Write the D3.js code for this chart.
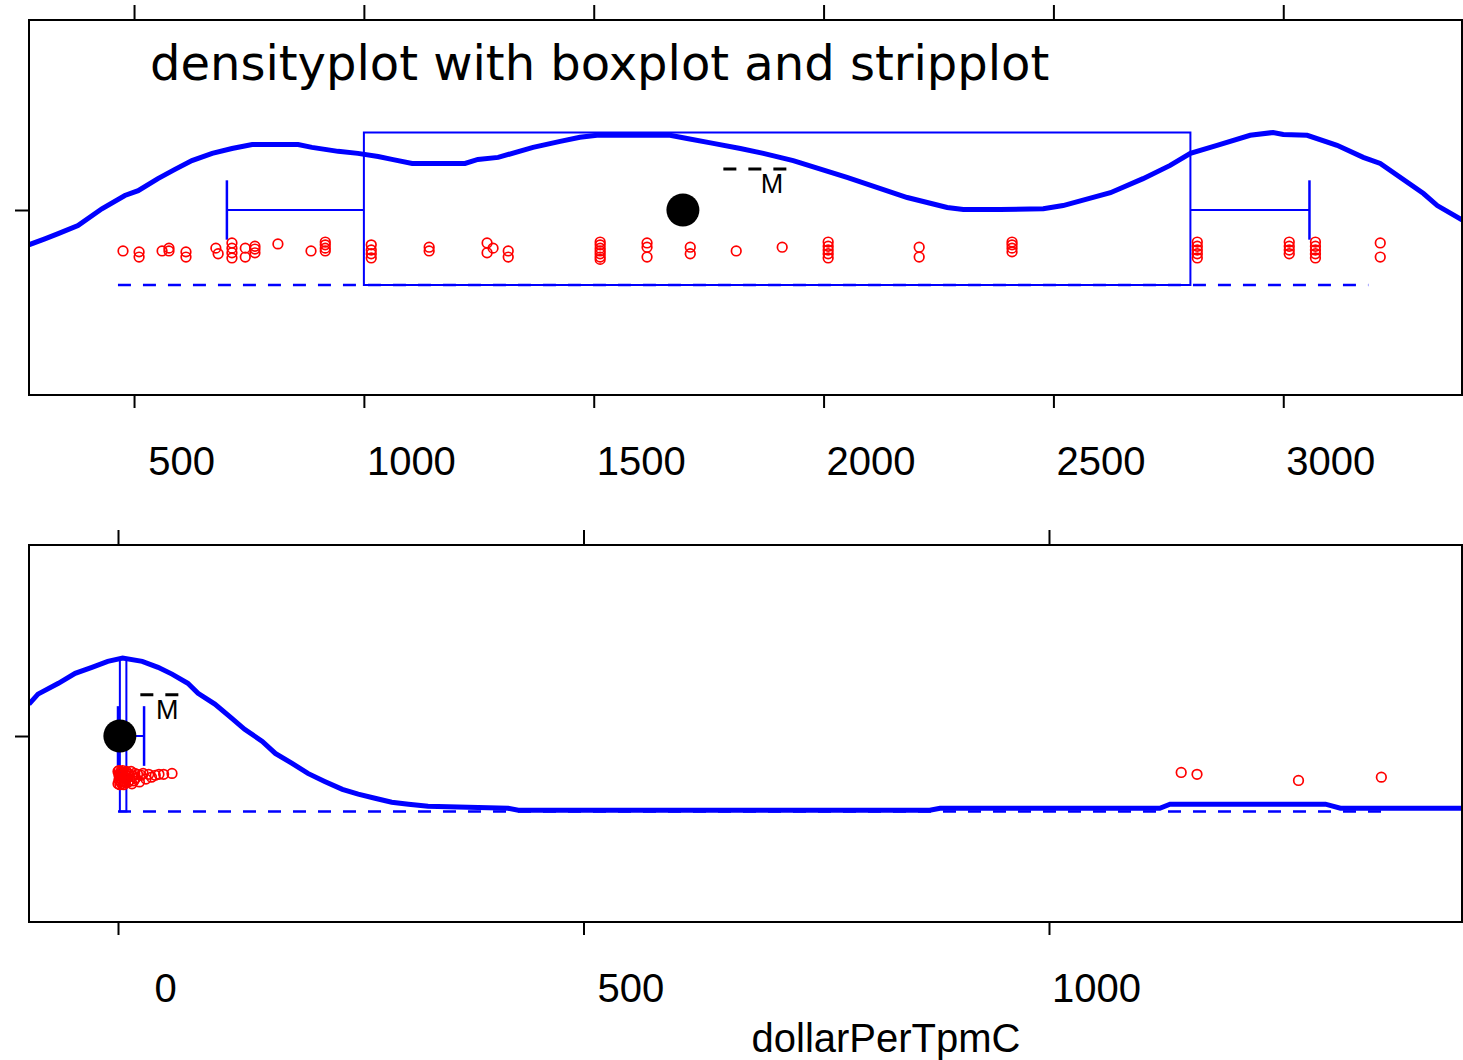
<!DOCTYPE html>
<html>
<head>
<script src="https://d3js.org/d3.v7.min.js" charset="utf-8"></script>
<style>
    body{
        margin:0;
        background:white;
        font-family:"Liberation Sans", Arial, sans-serif;
    }
</style>
</head>
<body>
<div id="chart"></div>
<script>

// ---- top panel ----
var topDomain = [271.5, 3391]
var topTicks = [500, 1000, 1500, 2000, 2500, 3000]
var topDensX = [271,306,335,378,430,480,509,552,589,626,670,713,757,857,887,944,987,1031,1061,1105,1220,1248,1292,1368,1427,1470,1507,1666,1703,1760,1819,1869,1934,2051,2182,2269,2304,2384,2478,2521,2624,2695,2754,2798,2856,2928,2978,3000,3052,3117,3174,3211,3305,3335,3392]
var topDensY = [1.00,1.15,1.28,1.48,1.90,2.23,2.35,2.65,2.88,3.10,3.28,3.40,3.50,3.50,3.43,3.33,3.28,3.20,3.13,3.03,3.03,3.13,3.18,3.43,3.58,3.68,3.73,3.73,3.65,3.53,3.40,3.28,3.10,2.68,2.18,1.93,1.88,1.88,1.90,1.98,2.30,2.65,2.98,3.28,3.48,3.73,3.80,3.75,3.73,3.48,3.18,3.03,2.28,1.98,1.60]
var topStrip = [476,511,511,561,576,576,613,613,678,683,713,713,713,713,742,742,763,763,763,813,885,916,916,916,916,1016,1016,1016,1016,1142,1142,1268,1268,1281,1314,1314,1514,1514,1514,1514,1514,1514,1514,1616,1616,1616,1710,1710,1810,1910,2010,2010,2010,2010,2010,2208,2208,2410,2410,2410,2410,2813,2813,2813,2813,2813,3013,3013,3013,3013,3070,3070,3070,3070,3070,3211,3211]
var topJitter = [-0.1,-0.2,-0.75,-0.1,0.2,-0.1,-0.2,-0.75,0.2,-0.4,0.75,0.2,-0.3,-0.85,0.2,-0.75,0.4,0.1,-0.3,0.65,-0.1,0.85,0.55,0.2,-0.1,0.55,0,-0.4,-0.85,0.3,-0.1,0.75,-0.3,0.2,-0.1,-0.75,0.85,0.55,0.2,-0.1,-0.4,-0.75,-1,0.75,0.3,-0.75,0.3,-0.4,-0.1,0.3,0.85,0.4,0,-0.4,-0.85,0.3,-0.75,0.85,0.55,0.2,-0.2,0.85,0.4,0,-0.4,-0.85,0.85,0.4,0,-0.4,0.85,0.4,0,-0.4,-0.85,0.75,-0.75]
var topBox = [702, 1000, 1694, 2798, 3057]   // lower whisker, q1, median, q3, upper whisker
var topRange = [465, 3185]
var topMeanBar = [1782, 1925]
var topMeanLabel = 1888

// ---- bottom panel ----
var bottomDomain = [-95.6, 1444.7]
var bottomTicks = [0, 500, 1000]
var bottomDensX = [-95.6,-86,-64,-46,-28,-11,5,26,43,58,75,86,104,122,136,155,169,187,204,222,241,258,276,294,312,333,419,430,872,883,1119,1130,1297,1313,1445]
var bottomDensY = [2.68,2.93,3.20,3.45,3.60,3.75,3.83,3.75,3.60,3.43,3.20,2.95,2.68,2.33,2.05,1.75,1.45,1.20,0.95,0.75,0.55,0.43,0.33,0.23,0.18,0.13,0.08,0.03,0.03,0.08,0.08,0.18,0.18,0.08,0.08]
var bottomStrip = [0,0,1,1,1,2,2,2,3,3,3,4,4,5,5,5,6,6,7,7,8,8,9,10,10,11,12,13,14,15,16,17,18,19,21,23,25,27,30,33,36,40,44,49,58,1142,1159,1268,1357]
var bottomJitter = [0.5,-0.8,0.1,-0.4,0.6,-0.9,0.3,-0.2,0.5,-0.6,0,0.4,-0.8,0.2,-0.5,0.6,-0.1,-0.9,0.4,-0.3,0.1,-0.7,0.5,-0.2,0.3,-0.6,0.2,-0.4,0.5,-0.8,0,-0.5,0.3,-0.2,0.2,-0.6,0.1,0.3,-0.3,0.2,-0.1,0.1,0.2,0.2,0.3,0.4,0.2,-0.45,-0.1]
var bottomBox = [0, 2, 2, 9, 28]
var bottomRange = [0, 1357]
var bottomMeanBar = [24, 65]
var bottomMeanLabel = 53

var titleText = "densityplot with boxplot and stripplot"
var xLabel = "dollarPerTpmC"

var panels = [
    {top:20, bottom:395, domain:topDomain, ticks:topTicks, densX:topDensX, densY:topDensY,
     strip:topStrip, jitter:topJitter, box:topBox, range:topRange, meanBar:topMeanBar, meanLabel:topMeanLabel},
    {top:545, bottom:922, domain:bottomDomain, ticks:bottomTicks, densX:bottomDensX, densY:bottomDensY,
     strip:bottomStrip, jitter:bottomJitter, box:bottomBox, range:bottomRange, meanBar:bottomMeanBar, meanLabel:bottomMeanLabel}
]

var W = 1463, H = 1060
var left = 29, right = 1462
var blue = "#0000ff", red = "#ff0000"

var svg = d3.select("#chart").append("svg")
    .attr("width", W).attr("height", H)

panels.forEach(function(p, pi){
    var x = d3.scaleLinear().domain(p.domain).range([left, 1463])
    // level axis: one group at level 1
    var y = d3.scaleLinear().domain([0.408, 1.608]).range([p.bottom, p.top])
    var boxLo = 0.76, boxHi = 1.248
    var yDens = d3.scaleLinear().domain([0, d3.max(p.densY)]).range([y(boxLo), y(boxHi)])
    var stripLevel = 0.872, jitterAmt = 0.03

    var g = svg.append("g")
    var clipId = "clip" + pi
    g.append("clipPath").attr("id", clipId).append("rect")
        .attr("x", left).attr("y", p.top).attr("width", right - left).attr("height", p.bottom - p.top)
    var inner = g.append("g").attr("clip-path", "url(#" + clipId + ")")

    // dashed range line
    inner.append("line")
        .attr("x1", x(p.range[0])).attr("x2", x(p.range[1]))
        .attr("y1", y(boxLo)).attr("y2", y(boxLo))
        .attr("stroke", blue).attr("stroke-width", 2.5)
        .attr("stroke-dasharray", "13,12")

    // box
    var b = p.box
    inner.append("rect")
        .attr("x", x(b[1])).attr("y", y(boxHi))
        .attr("width", x(b[3]) - x(b[1])).attr("height", y(boxLo) - y(boxHi))
        .attr("fill", "none").attr("stroke", blue).attr("stroke-width", 2)
    inner.selectAll("line.whisker")
        .data([[b[0], b[1]], [b[3], b[4]]])
        .enter().append("line").attr("class", "whisker")
        .attr("x1", function(d){ return x(d[0]) }).attr("x2", function(d){ return x(d[1]) })
        .attr("y1", y(1)).attr("y2", y(1))
        .attr("stroke", blue).attr("stroke-width", 2)
    inner.selectAll("line.cap")
        .data([b[0], b[4]])
        .enter().append("line").attr("class", "cap")
        .attr("x1", function(d){ return x(d) }).attr("x2", function(d){ return x(d) })
        .attr("y1", y(0.905)).attr("y2", y(1.095))
        .attr("stroke", blue).attr("stroke-width", 2.5)

    // density
    var dens = p.densX.map(function(v, i){ return [v, p.densY[i]] })
    inner.append("path")
        .datum(dens)
        .attr("fill", "none").attr("stroke", blue).attr("stroke-width", 5)
        .attr("d", d3.line().x(function(d){ return x(d[0]) }).y(function(d){ return yDens(d[1]) }))

    // strip points
    inner.selectAll("circle.pt")
        .data(p.strip)
        .enter().append("circle").attr("class", "pt")
        .attr("cx", function(d){ return x(d) })
        .attr("cy", function(d, i){ return y(stripLevel + p.jitter[i] * jitterAmt) })
        .attr("r", 4.8)
        .attr("fill", "none").attr("stroke", red).attr("stroke-width", 1.7)

    // median dot
    inner.append("circle")
        .attr("cx", x(b[2])).attr("cy", y(1)).attr("r", 16.5).attr("fill", "black")

    // mean marker
    inner.append("line")
        .attr("x1", x(p.meanBar[0])).attr("x2", x(p.meanBar[1]))
        .attr("y1", y(1.131)).attr("y2", y(1.131))
        .attr("stroke", "black").attr("stroke-width", 3)
        .attr("stroke-dasharray", "13,12")
    inner.append("text")
        .attr("x", x(p.meanLabel)).attr("y", y(1.054))
        .attr("text-anchor", "middle").attr("font-size", 27)
        .text("M")

    // frame
    g.append("rect")
        .attr("x", left).attr("y", p.top).attr("width", right - left).attr("height", p.bottom - p.top)
        .attr("fill", "none").attr("stroke", "black").attr("stroke-width", 2)

    // axes
    g.append("g").attr("transform", "translate(0," + p.top + ")")
        .call(d3.axisTop(x).tickValues(p.ticks).tickSize(15).tickFormat(""))
    var axBot = g.append("g").attr("transform", "translate(0," + p.bottom + ")")
        .call(d3.axisBottom(x).tickValues(p.ticks).tickSize(13).tickFormat(d3.format("d")))
    axBot.selectAll("text")
        .attr("x", 47).attr("y", 80).attr("dy", null)
        .attr("font-size", 40).attr("fill", "black")
        .attr("font-family", "Liberation Sans, Arial, sans-serif")
    g.append("g").attr("transform", "translate(" + left + ",0)")
        .call(d3.axisLeft(y).tickValues([1]).tickSize(14).tickFormat(""))
    g.selectAll(".domain").remove()
    g.selectAll(".tick line").attr("stroke", "black").attr("stroke-width", 2)
})

svg.append("text")
    .attr("x", 150).attr("y", 80)
    .attr("font-family", "DejaVu Sans, sans-serif")
    .attr("font-size", 48)
    .text(titleText)

svg.append("text")
    .attr("x", 886).attr("y", 1052)
    .attr("text-anchor", "middle")
    .attr("font-size", 40)
    .text(xLabel)

</script>
</body>
</html>
